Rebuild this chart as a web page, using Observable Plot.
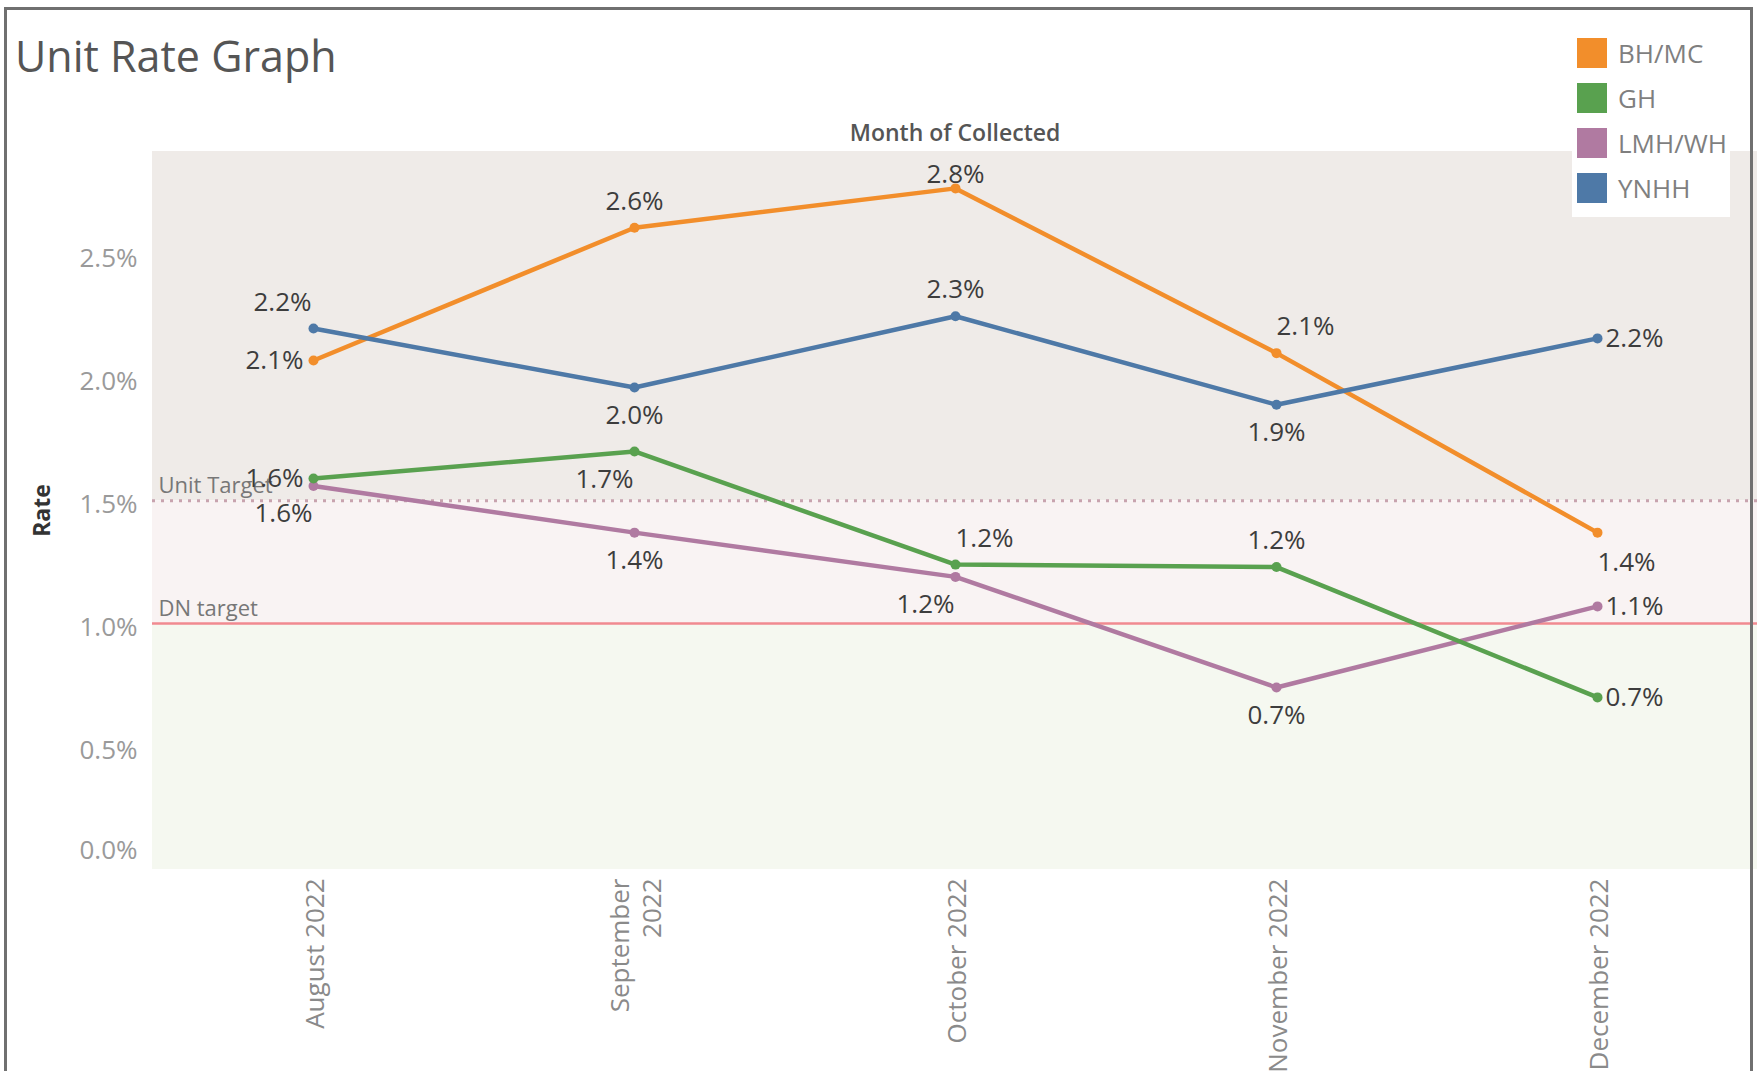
<!DOCTYPE html>
<html>
<head>
<meta charset="utf-8">
<script src="https://cdn.jsdelivr.net/npm/d3@7"></script>
<script src="https://cdn.jsdelivr.net/npm/@observablehq/plot@0.6"></script>
<style>
  html, body { margin: 0; padding: 0; background: #fff; }
  #page { position: relative; width: 1759px; height: 1071px; overflow: hidden; font-family: "Open Sans", sans-serif; }
  #chart { position: absolute; left: 0; top: 0; }
  #frame { position: absolute; left: 4px; top: 7px; width: 1749px; height: 1090px; border: 3px solid #707070; border-bottom: none; box-sizing: border-box; z-index: 5; pointer-events: none; }
  #title { position: absolute; left: 15px; top: 34px; font-size: 43px; line-height: 43px; color: #555; white-space: nowrap; z-index: 3; }
  #legend { position: absolute; left: 1572px; top: 32px; width: 158px; height: 185px; background: #fff; z-index: 3; }
  .item { position: absolute; left: 5px; height: 30px; display: flex; align-items: center; }
  .sw { width: 30px; height: 30px; margin-right: 11px; }
  .lab { font-size: 26px; color: #7f7f7f; white-space: nowrap; }
</style>
</head>
<body>
<div id="page">
  <div id="chart"></div>
  <div id="title">Unit Rate Graph</div>
  <div id="legend"></div>
  <div id="frame"></div>
</div>
<script>
// ---- data ----
const months = ["August 2022", "September 2022", "October 2022", "November 2022", "December 2022"];
const series = ["BH/MC", "GH", "LMH/WH", "YNHH"];
const bhmc  = [2.07, 2.61, 2.77, 2.10, 1.37];
const gh    = [1.59, 1.70, 1.24, 1.23, 0.70];
const lmhwh = [1.56, 1.37, 1.19, 0.74, 1.07];
const ynhh  = [2.20, 1.96, 2.25, 1.89, 2.16];
const yTicks = [0, 0.5, 1.0, 1.5, 2.0, 2.5];
const targetNames  = ["Unit Target", "DN target"];
const targetValues = [1.5, 1.0];
const yMax = 2.92;

// ---- style ----
const colors = ["#f28e2b", "#59a14f", "#b07aa1", "#4e79a7"];
const drawOrder = ["LMH/WH", "GH", "BH/MC", "YNHH"];
const labelSides = {
  "BH/MC":  ["l", "a", "at", "ar", "br"],
  "GH":     ["l", "bl", "ar", "a", "r"],
  "LMH/WH": ["bl", "b", "bl", "b", "r"],
  "YNHH":   ["al", "b", "a", "b", "r"]
};
const PLACE = {
  a:  {textAnchor: "middle", lineAnchor: "bottom", dx: 0,  dy: -18},
  at: {textAnchor: "middle", lineAnchor: "bottom", dx: 0,  dy: -5},
  b:  {textAnchor: "middle", lineAnchor: "top",    dx: 0,  dy: 18},
  al: {textAnchor: "end",    lineAnchor: "bottom", dx: -2, dy: -18},
  ar: {textAnchor: "start",  lineAnchor: "bottom", dx: 0,  dy: -18},
  bl: {textAnchor: "end",    lineAnchor: "top",    dx: -1, dy: 18},
  br: {textAnchor: "start",  lineAnchor: "top",    dx: 0,  dy: 20},
  l:  {textAnchor: "end",    lineAnchor: "middle", dx: -10, dy: 0},
  r:  {textAnchor: "start",  lineAnchor: "middle", dx: 8,  dy: 0}
};

const valuesBySeries = {"BH/MC": bhmc, "GH": gh, "LMH/WH": lmhwh, "YNHH": ynhh};
const rows = [];
for (const s of drawOrder) {
  valuesBySeries[s].forEach((v, i) => rows.push({series: s, month: months[i], value: v, side: labelSides[s][i]}));
}
const fmtPct = d => d.toFixed(1) + "%";
const wrap = s => s.length > 13 ? s.replace(" ", "\n") : s;

const bandTop = [{lo: targetValues[0], hi: yMax}];
const bandMid = [{lo: targetValues[1], hi: targetValues[0]}];
const bandLow = [{lo: 0, hi: targetValues[1]}];
const targets = targetNames.map((n, i) => ({name: n, value: targetValues[i]}));

const labelMarks = Object.entries(PLACE).map(([code, p]) =>
  Plot.text(rows.filter(r => r.side === code), {
    x: "month", y: "value", text: d => fmtPct(d.value),
    textAnchor: p.textAnchor, lineAnchor: p.lineAnchor, dx: p.dx, dy: p.dy,
    fontSize: 26, fill: "#3d3d3d"
  })
);

const chart = Plot.plot({
  width: 1759, height: 1071,
  marginLeft: 152, marginRight: 2, marginTop: 151, marginBottom: 202,
  style: {background: "transparent", fontFamily: "Open Sans, sans-serif"},
  x: {type: "point", domain: months, padding: 0.5, axis: null},
  y: {domain: [0, yMax], axis: null},
  color: {domain: series, range: colors},
  marks: [
    Plot.rect(bandTop, {y1: "lo", y2: "hi", fill: "#efebe8"}),
    Plot.rect(bandMid, {y1: "lo", y2: "hi", fill: "#f9f3f3"}),
    Plot.rect(bandLow, {y1: "lo", y2: "hi", fill: "#f5f8f0"}),
    Plot.ruleY([targets[0]], {y: "value", stroke: "#c8a3ae", strokeWidth: 3, strokeDasharray: "3,6"}),
    Plot.ruleY([targets[1]], {y: "value", stroke: "#f08a90", strokeWidth: 2.5}),
    Plot.text(targets, {y: "value", text: "name", frameAnchor: "left", dx: 6, dy: -8, lineAnchor: "bottom", textAnchor: "start", fontSize: 22, fill: "#777"}),
    Plot.line(rows, {x: "month", y: "value", z: "series", stroke: "series", strokeWidth: 4.5}),
    Plot.dot(rows, {x: "month", y: "value", fill: "series", r: 5}),
    ...labelMarks,
    Plot.axisY({ticks: yTicks.filter(d => d > 0), tickFormat: fmtPct, tickSize: 0, tickPadding: 15, fontSize: 26, color: "#9a9a9a", dy: 4, label: null}),
    Plot.axisY({ticks: yTicks.filter(d => d === 0), tickFormat: fmtPct, tickSize: 0, tickPadding: 15, fontSize: 26, color: "#9a9a9a", dy: -19, label: null}),
    Plot.axisX({tickRotate: -90, tickSize: 0, tickPadding: 9, tickFormat: wrap, textAnchor: "end", lineAnchor: "middle", lineHeight: 1.25, fontSize: 26, color: "#8a8a8a", label: null}),
    Plot.text(["Rate"], {frameAnchor: "left", dx: -110, rotate: -90, textAnchor: "middle", lineAnchor: "middle", fontSize: 23, fontWeight: "bold", fill: "#333"}),
    Plot.text(["Month of Collected"], {frameAnchor: "top", dy: -11, textAnchor: "middle", lineAnchor: "bottom", fontSize: 23, fontWeight: 600, fill: "#555"})
  ]
});
document.getElementById("chart").appendChild(chart);

// legend
const legend = document.getElementById("legend");
series.forEach((s, i) => {
  const item = document.createElement("div");
  item.className = "item";
  item.style.top = (6 + 45 * i) + "px";
  item.innerHTML = `<div class="sw" style="background:${colors[i]}"></div><div class="lab">${s}</div>`;
  legend.appendChild(item);
});
</script>
</body>
</html>
